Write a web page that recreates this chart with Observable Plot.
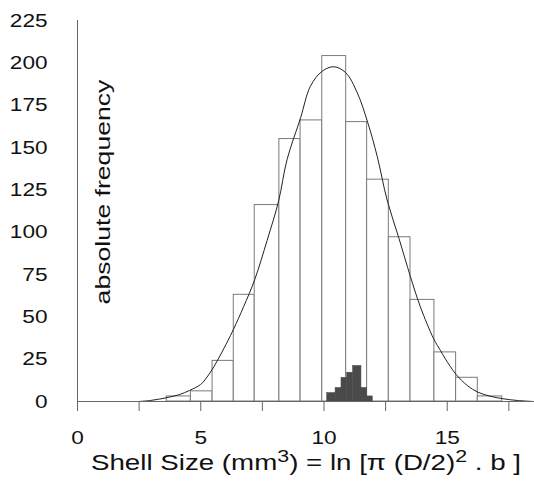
<!DOCTYPE html>
<html><head><meta charset="utf-8">
<script src="https://cdn.jsdelivr.net/npm/d3@7"></script>
<script src="https://cdn.jsdelivr.net/npm/@observablehq/plot@0.6"></script>
<style>body{margin:0;background:#fff;}</style>
</head><body><div id="chart"></div>
<script>
// Histogram of all shells (bin edges and absolute frequencies)
const binEdges  = [3.62, 4.60, 5.48, 6.34, 7.19, 8.19, 9.05, 9.93, 10.90, 11.75, 12.63, 13.51, 14.48, 15.36, 16.24, 17.23];
const binCounts = [3, 6, 24, 63, 116, 155, 166, 204, 165, 131, 97, 60, 29, 14, 3];

// Dark sub-sample histogram
const subEdges  = [10.13, 10.47, 10.71, 10.94, 11.18, 11.52, 11.75, 11.98];
const subCounts = [5, 8, 14, 17, 21, 8, 3];

// Fitted curve, points
const curveX = [2.48, 2.96, 3.60, 4.14, 4.54, 4.99, 5.26, 5.53, 5.80, 6.07, 6.34, 6.74, 7.19, 7.69, 8.16, 8.50, 9.05, 9.45, 9.93, 10.40, 10.88, 11.35, 11.78, 12.16, 12.56, 13.04, 13.51, 13.91, 14.45, 14.73, 14.93, 15.36, 15.81, 16.24, 16.75, 17.23, 17.84, 18.50];
const curveY = [0, 0.6, 2.2, 4.1, 6.5, 10, 14.5, 20.5, 27.5, 35, 43, 56, 72, 95, 118.5, 142.8, 167.5, 186.2, 195.1, 197.7, 194.2, 182.3, 164.5, 144.7, 119, 96.4, 73.6, 55.9, 37, 30, 25, 16, 9.5, 5.5, 3.1, 1.7, 0.6, 0];

const xTicks = [0, 2.5, 5, 7.5, 10, 12.5, 15, 17.5];
const xLabels = [0, 5, 10, 15];
const yTicks = [0, 25, 50, 75, 100, 125, 150, 175, 200, 225];
const yTitle = "absolute frequency";
const xTitleParts = ["Shell Size (mm", "3", ") = ln [\u03C0 (D/2)", "2", " . b ]"];

const bins = binCounts.map((c, i) => ({x1: binEdges[i], x2: binEdges[i + 1], y: c}));
const sub = subCounts.map((c, i) => ({x1: subEdges[i], x2: subEdges[i + 1], y: c}));
const curve = curveX.map((x, i) => ({x, y: curveY[i]}));

const plot = Plot.plot({
  width: 534, height: 491,
  marginLeft: 77, marginRight: 0, marginTop: 20, marginBottom: 90,
  style: {fontFamily: "'Liberation Sans', Arial, sans-serif", fontSize: "19px", background: "#fff", color: "#111"},
  x: {domain: [0, 18.54]},
  y: {domain: [0, 225]},
  marks: [
    Plot.rectY(bins, {x1: "x1", x2: "x2", y: "y", fill: "#fff", stroke: "#7a7a7a", strokeWidth: 1}),
    Plot.rectY(sub, {x1: "x1", x2: "x2", y: "y", fill: "#4a4a4a", stroke: "#4a4a4a", strokeWidth: 0.5}),
    Plot.line(curve, {x: "x", y: "y", curve: "catmull-rom", stroke: "#222", strokeWidth: 1}),
    Plot.ruleX([0], {stroke: "#666", strokeWidth: 1}),
    Plot.ruleY([0], {stroke: "#666", strokeWidth: 1}),
    Plot.axisX({ticks: xTicks, tickSize: 10, tickPadding: 19, stroke: "#666", fill: "#111",
      tickFormat: d => xLabels.includes(d) ? String(d) : "", label: null}),
    Plot.axisY({ticks: yTicks, tickSize: 0, tickPadding: 30, fill: "#111", label: null}),
    Plot.text([yTitle], {frameAnchor: "left", rotate: -90, dx: 26, dy: -19, fontSize: 20, fill: "#111", text: d => d, lineAnchor: "middle", textAnchor: "middle"}),
    Plot.text([xTitleParts.join("")], {frameAnchor: "bottom", dy: 61, fontSize: 22, fill: "#111", text: d => d, lineAnchor: "middle"})
  ]
});
document.getElementById("chart").appendChild(plot);

// stretch text along its direction like the reference typeface
const svg = d3.select(plot);
svg.selectAll("g[aria-label='x-axis tick label'] text, g[aria-label='y-axis tick label'] text").each(function() {
  const w = this.getComputedTextLength();
  if (w > 0) { this.setAttribute("textLength", (w * 1.19).toFixed(1)); this.setAttribute("lengthAdjust", "spacingAndGlyphs"); }
});
svg.selectAll("text").filter(function() { return this.textContent === yTitle; }).each(function() {
  const w = this.getComputedTextLength();
  const tr = this.getAttribute("transform") || "";
  this.setAttribute("transform", tr + ` scale(${(225 / w).toFixed(3)},1)`);
});
svg.selectAll("text").filter(function() { return this.textContent === xTitleParts.join(""); }).each(function() {
  const t = d3.select(this);
  t.text(null);
  xTitleParts.forEach((p, i) => {
    const sup = i % 2 === 1;
    t.append("tspan").attr("dy", sup ? -8 : (i > 0 ? 8 : null)).attr("font-size", sup ? 17 : null).text(p);
  });
  this.setAttribute("textLength", 430); this.setAttribute("lengthAdjust", "spacingAndGlyphs");
});
</script>
</body></html>
